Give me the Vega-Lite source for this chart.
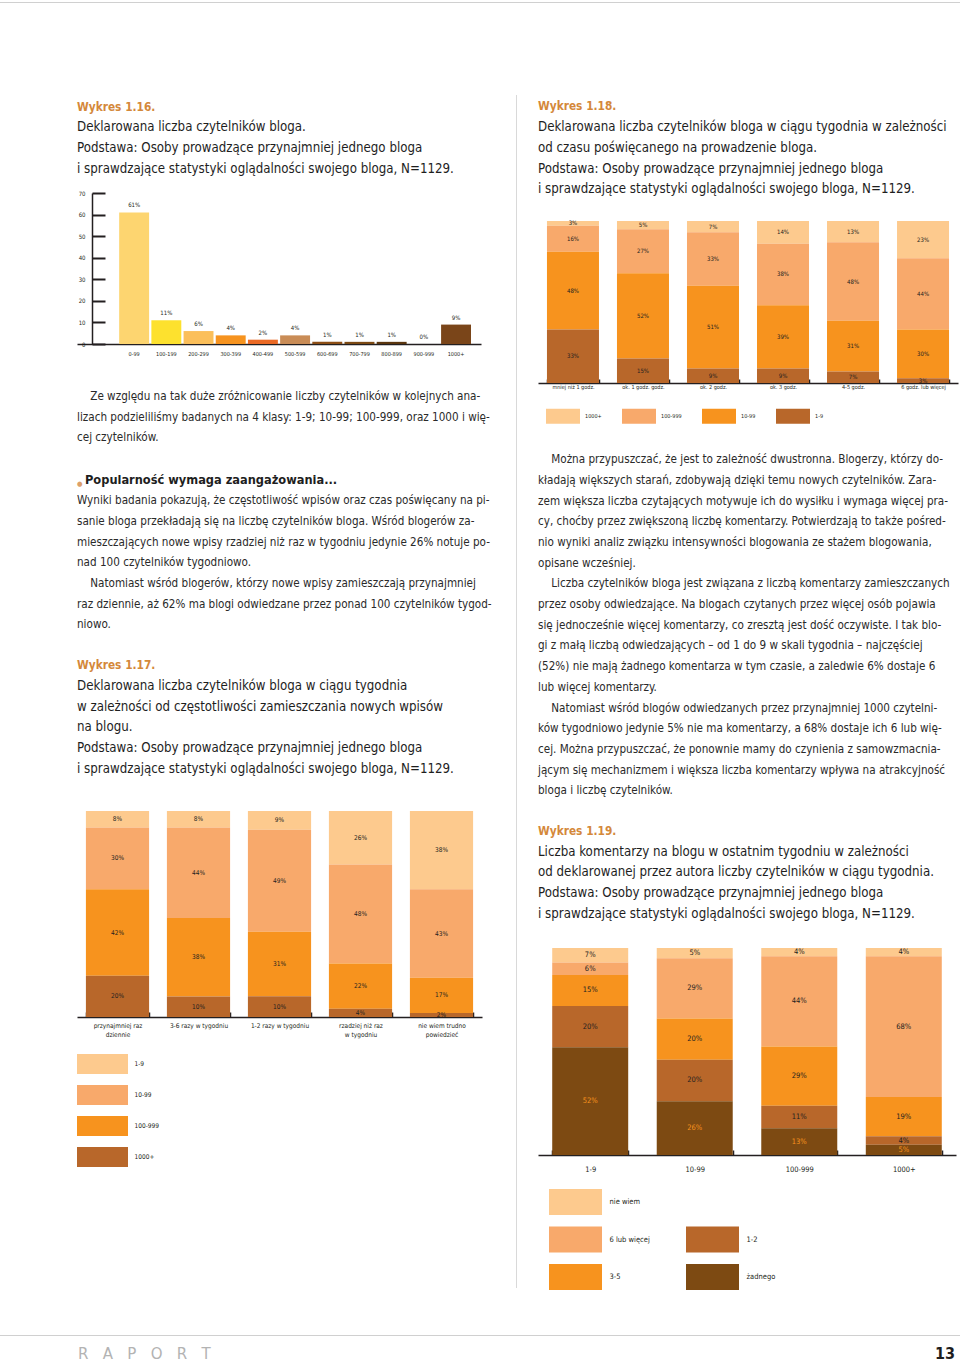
{
  "$schema": "https://vega.github.io/schema/vega-lite/v6.json",
  "background": "white",
  "padding": {"left": 0, "top": 2, "right": 0, "bottom": 0},
  "spacing": 0,
  "resolve": {"scale": {"color": "independent"}},
  "config": {
    "font": "DejaVu Sans Condensed, sans-serif",
    "view": {"stroke": null},
    "concat": {"spacing": 0},
    "title": {
      "anchor": "start", "frame": "group", "offset": 0,
      "font": "DejaVu Sans Condensed, sans-serif",
      "fontSize": 11.8, "fontWeight": "bold", "color": "#d4883a", "lineHeight": 20.7,
      "subtitleFont": "DejaVu Sans Condensed, sans-serif",
      "subtitleFontSize": 13.2, "subtitleColor": "#1e1e1e", "subtitleFontWeight": "normal",
      "subtitleLineHeight": 20.7, "subtitlePadding": 8
    },
    "axis": {"grid": false, "title": null, "labelColor": "#231f20", "domainColor": "#231f20", "tickColor": "#231f20", "labelAngle": 0}
  },
  "vconcat": [
    {"width": 960, "height": 1, "data": {"values": []}, "mark": "point", "view": {"fill": "#d0d0d0", "stroke": null}},
    {"width": 1, "height": 92, "data": {"values": []}, "mark": "point"},
    {
      "spacing": 0,
      "resolve": {"scale": {"color": "independent"}},
      "hconcat": [
        {"width": 77, "height": 1, "data": {"values": []}, "mark": "point"},
        {
          "spacing": 0,
          "resolve": {"scale": {"color": "independent"}},
          "vconcat": [
            {"width": 1, "height": 6, "data": {"values": []}, "mark": "point"},
            {
              "width": 404, "height": 151,
              "title": {
                "text": "Wykres 1.16.",
                "subtitle": ["Deklarowana liczba czytelników bloga.", "Podstawa: Osoby prowadzące przynajmniej jednego bloga", "i sprawdzające statystyki oglądalności swojego bloga, N=1129."],
                "offset": 15
              },
              "data": {"values": [
                {"przedzial": "0-99", "udzial": 0.61},
                {"przedzial": "100-199", "udzial": 0.11},
                {"przedzial": "200-299", "udzial": 0.06},
                {"przedzial": "300-399", "udzial": 0.04},
                {"przedzial": "400-499", "udzial": 0.02},
                {"przedzial": "500-599", "udzial": 0.04},
                {"przedzial": "600-699", "udzial": 0.01},
                {"przedzial": "700-799", "udzial": 0.01},
                {"przedzial": "800-899", "udzial": 0.01},
                {"przedzial": "900-999", "udzial": 0.0},
                {"przedzial": "1000+", "udzial": 0.09}
              ]},
              "encoding": {
                "x": {"field": "przedzial", "type": "nominal",
                  "scale": {"domain": ["", "0-99", "100-199", "200-299", "300-399", "400-499", "500-599", "600-699", "700-799", "800-899", "900-999", "1000+"], "paddingInner": 0.07, "paddingOuter": 0.31},
                  "axis": {"ticks": false, "labelFontSize": 5.5, "labelPadding": 7, "domainWidth": 1.5}},
                "y": {"field": "udzial", "type": "quantitative",
                  "scale": {"domain": [0, 0.7]},
                  "axis": {"values": [0, 0.1, 0.2, 0.3, 0.4, 0.5, 0.6, 0.7], "labelExpr": "round(datum.value*100)", "offset": -15, "tickSize": -13, "tickWidth": 2, "labelPadding": 20, "labelFontSize": 6, "domainWidth": 1.5}}
              },
              "layer": [
                {"mark": "bar", "encoding": {"color": {"field": "przedzial", "type": "nominal", "legend": null,
                  "scale": {"domain": ["0-99", "100-199", "200-299", "300-399", "400-499", "500-599", "600-699", "700-799", "800-899", "900-999", "1000+"],
                            "range": ["#fdd570", "#fde12e", "#fbbf5a", "#f6931f", "#eb6a25", "#c98c56", "#8c4e15", "#7b4913", "#5a360f", "#5a360f", "#7a4519"]}}}},
                {"mark": {"type": "text", "dy": -7, "fontSize": 6, "color": "#231f20"}, "encoding": {"text": {"field": "udzial", "format": ".0%"}}}
              ]
            },
            {"width": 1, "height": 34, "data": {"values": []}, "mark": "point"},
            {
              "width": 414, "height": 1, "data": {"values": []}, "mark": "point",
              "title": {"text": [
                "\u200b\u00a0\u00a0\u00a0\u00a0Ze względu na tak duże zróżnicowanie liczby czytelników w kolejnych ana-",
                "lizach podzieliliśmy badanych na 4 klasy: 1-9; 10-99; 100-999, oraz 1000 i wię-",
                "cej czytelników."
              ], "fontSize": 11.6, "fontWeight": "normal", "color": "#2a2a2a"}
            },
            {"width": 1, "height": 25, "data": {"values": []}, "mark": "point"},
            {
              "spacing": 0,
              "hconcat": [
                {"width": 8, "height": 1, "data": {"values": []}, "mark": "point",
                 "title": {"text": "\u25cf", "fontSize": 7, "fontWeight": "normal", "color": "#dca06a"}},
                {"width": 406, "height": 1, "data": {"values": []}, "mark": "point",
                 "title": {"text": "Popularność wymaga zaangażowania...", "fontSize": 12.7, "color": "#1e1e1e"}}
              ]
            },
            {"width": 1, "height": 3, "data": {"values": []}, "mark": "point"},
            {
              "width": 414, "height": 1, "data": {"values": []}, "mark": "point",
              "title": {"text": [
                  "Wyniki badania pokazują, że częstotliwość wpisów oraz czas poświęcany na pi-",
                  "sanie bloga przekładają się na liczbę czytelników bloga. Wśród blogerów za-",
                  "mieszczających nowe wpisy rzadziej niż raz w tygodniu jedynie 26% notuje po-",
                  "nad 100 czytelników tygodniowo.",
                  "\u200b\u00a0\u00a0\u00a0\u00a0Natomiast wśród blogerów, którzy nowe wpisy zamieszczają przynajmniej",
                  "raz dziennie, aż 62% ma blogi odwiedzane przez ponad 100 czytelników tygod-",
                  "niowo."
                ], "fontSize": 11.6, "fontWeight": "normal", "color": "#2a2a2a"}
            },
            {"width": 1, "height": 24, "data": {"values": []}, "mark": "point"},
            {
              "width": 405, "height": 206,
              "title": {
                "text": "Wykres 1.17.",
                "subtitle": ["Deklarowana liczba czytelników bloga w ciągu tygodnia", "w zależności od częstotliwości zamieszczania nowych wpisów", "na blogu.", "Podstawa: Osoby prowadzące przynajmniej jednego bloga", "i sprawdzające statystyki oglądalności swojego bloga, N=1129."],
                "offset": 36
              },
              "data": {"values": [
                {"czestotliwosc": "przynajmniej raz dziennie", "klasa": "1-9", "udzial": 0.08},
                {"czestotliwosc": "przynajmniej raz dziennie", "klasa": "10-99", "udzial": 0.30},
                {"czestotliwosc": "przynajmniej raz dziennie", "klasa": "100-999", "udzial": 0.42},
                {"czestotliwosc": "przynajmniej raz dziennie", "klasa": "1000+", "udzial": 0.20},
                {"czestotliwosc": "3-6 razy w tygodniu", "klasa": "1-9", "udzial": 0.08},
                {"czestotliwosc": "3-6 razy w tygodniu", "klasa": "10-99", "udzial": 0.44},
                {"czestotliwosc": "3-6 razy w tygodniu", "klasa": "100-999", "udzial": 0.38},
                {"czestotliwosc": "3-6 razy w tygodniu", "klasa": "1000+", "udzial": 0.10},
                {"czestotliwosc": "1-2 razy w tygodniu", "klasa": "1-9", "udzial": 0.09},
                {"czestotliwosc": "1-2 razy w tygodniu", "klasa": "10-99", "udzial": 0.49},
                {"czestotliwosc": "1-2 razy w tygodniu", "klasa": "100-999", "udzial": 0.31},
                {"czestotliwosc": "1-2 razy w tygodniu", "klasa": "1000+", "udzial": 0.10},
                {"czestotliwosc": "rzadziej niż raz w tygodniu", "klasa": "1-9", "udzial": 0.26},
                {"czestotliwosc": "rzadziej niż raz w tygodniu", "klasa": "10-99", "udzial": 0.48},
                {"czestotliwosc": "rzadziej niż raz w tygodniu", "klasa": "100-999", "udzial": 0.22},
                {"czestotliwosc": "rzadziej niż raz w tygodniu", "klasa": "1000+", "udzial": 0.04},
                {"czestotliwosc": "nie wiem trudno powiedzieć", "klasa": "1-9", "udzial": 0.38},
                {"czestotliwosc": "nie wiem trudno powiedzieć", "klasa": "10-99", "udzial": 0.43},
                {"czestotliwosc": "nie wiem trudno powiedzieć", "klasa": "100-999", "udzial": 0.17},
                {"czestotliwosc": "nie wiem trudno powiedzieć", "klasa": "1000+", "udzial": 0.02}
              ]},
              "transform": [{"calculate": "indexof(['1-9', '10-99', '100-999', '1000+'], datum.klasa)", "as": "poz"}],
              "encoding": {
                "x": {"field": "czestotliwosc", "type": "nominal",
                  "sort": ["przynajmniej raz dziennie", "3-6 razy w tygodniu", "1-2 razy w tygodniu", "rzadziej niż raz w tygodniu", "nie wiem trudno powiedzieć"],
                  "scale": {"paddingInner": 0.22, "paddingOuter": 0.11},
                  "axis": {"tickBand": "extent", "tickSize": -5, "tickWidth": 1.5, "domainWidth": 1.5, "labelFontSize": 6.5, "labelPadding": 10, "labelLineHeight": 9,
                    "labelExpr": "datum.label == 'przynajmniej raz dziennie' ? ['przynajmniej raz', 'dziennie'] : datum.label == 'rzadziej niż raz w tygodniu' ? ['rzadziej niż raz', 'w tygodniu'] : datum.label == 'nie wiem trudno powiedzieć' ? ['nie wiem trudno', 'powiedzieć'] : datum.label"}},
                "y": {"field": "udzial", "type": "quantitative", "stack": "normalize", "axis": null},
                "order": {"field": "poz", "type": "quantitative", "sort": "descending"},
                "color": {"field": "klasa", "type": "nominal", "legend": null,
                  "scale": {"domain": ["1-9", "10-99", "100-999", "1000+"], "range": ["#fdca8e", "#f8a96b", "#f7931e", "#b8672a"]}}
              },
              "layer": [
                {"mark": "bar"},
                {"mark": {"type": "text", "fontSize": 6.5},
                 "encoding": {
                   "y": {"field": "udzial", "type": "quantitative", "stack": "normalize", "bandPosition": 0.5},
                   "text": {"field": "udzial", "format": ".0%"},
                   "fill": {"value": "#231f20"}}}
              ]
            },
            {"width": 1, "height": 16, "data": {"values": []}, "mark": "point"},
            {
              "width": 51, "height": 113,
              "data": {"values": [{"klasa": "1-9"}, {"klasa": "10-99"}, {"klasa": "100-999"}, {"klasa": "1000+"}]},
              "mark": "bar",
              "encoding": {
                "y": {"field": "klasa", "type": "nominal", "scale": {"domain": ["1-9", "10-99", "100-999", "1000+"], "paddingInner": 0.355, "paddingOuter": 0},
                  "axis": {"orient": "right", "ticks": false, "domain": false, "labelFontSize": 6.5, "labelPadding": 6}},
                "color": {"field": "klasa", "type": "nominal", "legend": null,
                  "scale": {"domain": ["1-9", "10-99", "100-999", "1000+"], "range": ["#fdca8e", "#f8a96b", "#f7931e", "#b8672a"]}}
              }
            }
          ]
        },
        {"width": 24, "height": 1, "data": {"values": []}, "mark": "point"},
        {"width": 1, "height": 1193, "data": {"values": []}, "mark": "point", "view": {"fill": "#d9d9d9", "stroke": null}},
        {"width": 21, "height": 1, "data": {"values": []}, "mark": "point"},
        {
          "spacing": 0,
          "resolve": {"scale": {"color": "independent"}},
          "vconcat": [
            {"width": 1, "height": 6, "data": {"values": []}, "mark": "point"},
            {
              "width": 420, "height": 162,
              "title": {
                "text": "Wykres 1.18.",
                "subtitle": ["Deklarowana liczba czytelników bloga w ciągu tygodnia w zależności", "od czasu poświęcanego na prowadzenie bloga.", "Podstawa: Osoby prowadzące przynajmniej jednego bloga", "i sprawdzające statystyki oglądalności swojego bloga, N=1129."],
                "offset": 25
              },
              "data": {"values": [
                {"czas": "mniej niż 1 godz.", "klasa": "1000+", "udzial": 0.03},
                {"czas": "mniej niż 1 godz.", "klasa": "100-999", "udzial": 0.16},
                {"czas": "mniej niż 1 godz.", "klasa": "10-99", "udzial": 0.48},
                {"czas": "mniej niż 1 godz.", "klasa": "1-9", "udzial": 0.33},
                {"czas": "ok. 1 godz. godz.", "klasa": "1000+", "udzial": 0.05},
                {"czas": "ok. 1 godz. godz.", "klasa": "100-999", "udzial": 0.27},
                {"czas": "ok. 1 godz. godz.", "klasa": "10-99", "udzial": 0.52},
                {"czas": "ok. 1 godz. godz.", "klasa": "1-9", "udzial": 0.15},
                {"czas": "ok. 2 godz.", "klasa": "1000+", "udzial": 0.07},
                {"czas": "ok. 2 godz.", "klasa": "100-999", "udzial": 0.33},
                {"czas": "ok. 2 godz.", "klasa": "10-99", "udzial": 0.51},
                {"czas": "ok. 2 godz.", "klasa": "1-9", "udzial": 0.09},
                {"czas": "ok. 3 godz.", "klasa": "1000+", "udzial": 0.14},
                {"czas": "ok. 3 godz.", "klasa": "100-999", "udzial": 0.38},
                {"czas": "ok. 3 godz.", "klasa": "10-99", "udzial": 0.39},
                {"czas": "ok. 3 godz.", "klasa": "1-9", "udzial": 0.09},
                {"czas": "4-5  godz.", "klasa": "1000+", "udzial": 0.13},
                {"czas": "4-5  godz.", "klasa": "100-999", "udzial": 0.48},
                {"czas": "4-5  godz.", "klasa": "10-99", "udzial": 0.31},
                {"czas": "4-5  godz.", "klasa": "1-9", "udzial": 0.07},
                {"czas": "6 godz. lub więcej", "klasa": "1000+", "udzial": 0.23},
                {"czas": "6 godz. lub więcej", "klasa": "100-999", "udzial": 0.44},
                {"czas": "6 godz. lub więcej", "klasa": "10-99", "udzial": 0.30},
                {"czas": "6 godz. lub więcej", "klasa": "1-9", "udzial": 0.03}
              ]},
              "transform": [{"calculate": "indexof(['1000+', '100-999', '10-99', '1-9'], datum.klasa)", "as": "poz"}],
              "encoding": {
                "x": {"field": "czas", "type": "nominal",
                  "sort": ["mniej niż 1 godz.", "ok. 1 godz. godz.", "ok. 2 godz.", "ok. 3 godz.", "4-5  godz.", "6 godz. lub więcej"],
                  "scale": {"paddingInner": 0.257, "paddingOuter": 0.128},
                  "axis": {"tickBand": "extent", "tickSize": -4, "tickWidth": 1.5, "domainWidth": 1.5, "labelFontSize": 5.5, "labelPadding": 5}},
                "y": {"field": "udzial", "type": "quantitative", "stack": "normalize", "axis": null},
                "order": {"field": "poz", "type": "quantitative", "sort": "descending"},
                "color": {"field": "klasa", "type": "nominal",
                  "sort": ["1000+", "100-999", "10-99", "1-9"],
                  "scale": {"domain": ["1000+", "100-999", "10-99", "1-9"], "range": ["#fdca8e", "#f8a96b", "#f7931e", "#b8672a"]},
                  "legend": {"orient": "bottom", "direction": "horizontal", "title": null, "symbolType": "M-1,-0.44H1V0.44H-1Z", "symbolSize": 1156, "symbolStrokeWidth": 0, "symbolOpacity": 1, "labelFontSize": 5.5, "labelOffset": 5, "columnPadding": 20, "offset": 1, "padding": 8, "labelColor": "#231f20"}}
              },
              "layer": [
                {"mark": "bar"},
                {"mark": {"type": "text", "fontSize": 6},
                 "encoding": {
                   "y": {"field": "udzial", "type": "quantitative", "stack": "normalize", "bandPosition": 0.5},
                   "text": {"field": "udzial", "format": ".0%"},
                   "fill": {"value": "#231f20"}}}
              ]
            },
            {"width": 1, "height": 22, "data": {"values": []}, "mark": "point"},
            {
              "width": 420, "height": 1, "data": {"values": []}, "mark": "point",
              "title": {"text": [
                "\u200b\u00a0\u00a0\u00a0\u00a0Można przypuszczać, że jest to zależność dwustronna. Blogerzy, którzy do-",
                "kładają większych starań, zdobywają dzięki temu nowych czytelników. Zara-",
                "zem większa liczba czytających motywuje ich do wysiłku i wymaga więcej pra-",
                "cy, choćby przez zwiększoną liczbę komentarzy. Potwierdzają to także pośred-",
                "nio wyniki analiz związku intensywności blogowania ze stażem blogowania,",
                "opisane wcześniej.",
                "\u200b\u00a0\u00a0\u00a0\u00a0Liczba czytelników bloga jest związana z liczbą komentarzy zamieszczanych",
                "przez osoby odwiedzające. Na blogach czytanych przez więcej osób pojawia",
                "się jednocześnie więcej komentarzy, co zresztą jest dość oczywiste. I tak blo-",
                "gi z małą liczbą odwiedzających – od 1 do 9 w skali tygodnia – najczęściej",
                "(52%) nie mają żadnego komentarza w tym czasie, a zaledwie 6% dostaje 6",
                "lub więcej komentarzy.",
                "\u200b\u00a0\u00a0\u00a0\u00a0Natomiast wśród blogów odwiedzanych przez przynajmniej 1000 czytelni-",
                "ków tygodniowo jedynie 5% nie ma komentarzy, a 68% dostaje ich 6 lub wię-",
                "cej. Można przypuszczać, że ponownie mamy do czynienia z samowzmacnia-",
                "jącym się mechanizmem i większa liczba komentarzy wpływa na atrakcyjność",
                "bloga i liczbę czytelników."
              ], "fontSize": 11.6, "fontWeight": "normal", "color": "#2a2a2a"}
            },
            {"width": 1, "height": 23, "data": {"values": []}, "mark": "point"},
            {
              "width": 418, "height": 207,
              "title": {
                "text": "Wykres 1.19.",
                "subtitle": ["Liczba komentarzy na blogu w ostatnim tygodniu w zależności", "od deklarowanej przez autora liczby czytelników w ciągu tygodnia.", "Podstawa: Osoby prowadzące przynajmniej jednego bloga", "i sprawdzające statystyki oglądalności swojego bloga, N=1129."],
                "offset": 28
              },
              "data": {"values": [
                {"czytelnicy": "1-9", "komentarze": "nie wiem", "udzial": 0.07},
                {"czytelnicy": "1-9", "komentarze": "6 lub więcej", "udzial": 0.06},
                {"czytelnicy": "1-9", "komentarze": "3-5", "udzial": 0.15},
                {"czytelnicy": "1-9", "komentarze": "1-2", "udzial": 0.20},
                {"czytelnicy": "1-9", "komentarze": "żadnego", "udzial": 0.52},
                {"czytelnicy": "10-99", "komentarze": "nie wiem", "udzial": 0.05},
                {"czytelnicy": "10-99", "komentarze": "6 lub więcej", "udzial": 0.29},
                {"czytelnicy": "10-99", "komentarze": "3-5", "udzial": 0.20},
                {"czytelnicy": "10-99", "komentarze": "1-2", "udzial": 0.20},
                {"czytelnicy": "10-99", "komentarze": "żadnego", "udzial": 0.26},
                {"czytelnicy": "100-999", "komentarze": "nie wiem", "udzial": 0.04},
                {"czytelnicy": "100-999", "komentarze": "6 lub więcej", "udzial": 0.44},
                {"czytelnicy": "100-999", "komentarze": "3-5", "udzial": 0.29},
                {"czytelnicy": "100-999", "komentarze": "1-2", "udzial": 0.11},
                {"czytelnicy": "100-999", "komentarze": "żadnego", "udzial": 0.13},
                {"czytelnicy": "1000+", "komentarze": "nie wiem", "udzial": 0.04},
                {"czytelnicy": "1000+", "komentarze": "6 lub więcej", "udzial": 0.68},
                {"czytelnicy": "1000+", "komentarze": "3-5", "udzial": 0.19},
                {"czytelnicy": "1000+", "komentarze": "1-2", "udzial": 0.04},
                {"czytelnicy": "1000+", "komentarze": "żadnego", "udzial": 0.05}
              ]},
              "transform": [{"calculate": "indexof(['nie wiem', '6 lub więcej', '3-5', '1-2', 'żadnego'], datum.komentarze)", "as": "poz"}],
              "encoding": {
                "x": {"field": "czytelnicy", "type": "nominal",
                  "sort": ["1-9", "10-99", "100-999", "1000+"],
                  "scale": {"paddingInner": 0.273, "paddingOuter": 0.136},
                  "axis": {"tickBand": "extent", "tickSize": -5, "tickWidth": 1.5, "domainWidth": 1.5, "labelFontSize": 7.5, "labelPadding": 15}},
                "y": {"field": "udzial", "type": "quantitative", "stack": "normalize", "axis": null},
                "order": {"field": "poz", "type": "quantitative", "sort": "descending"},
                "color": {"field": "komentarze", "type": "nominal", "legend": null,
                  "scale": {"domain": ["nie wiem", "6 lub więcej", "3-5", "1-2", "żadnego"], "range": ["#fdca8e", "#f8a96b", "#f7931e", "#b8672a", "#7d4a12"]}}
              },
              "layer": [
                {"mark": "bar"},
                {"mark": {"type": "text", "fontSize": 7.5},
                 "encoding": {
                   "y": {"field": "udzial", "type": "quantitative", "stack": "normalize", "bandPosition": 0.5},
                   "text": {"field": "udzial", "format": ".0%"},
                   "fill": {"condition": {"test": "datum.komentarze == 'żadnego'", "value": "#f7931e"}, "value": "#231f20"}}}
              ]
            },
            {"width": 1, "height": 16, "data": {"values": []}, "mark": "point"},
            {
              "spacing": 0,
              "resolve": {"scale": {"color": "independent"}},
              "hconcat": [
                {"width": 11, "height": 1, "data": {"values": []}, "mark": "point"},
                {
                  "width": 53, "height": 101,
                  "data": {"values": [{"komentarze": "nie wiem"}, {"komentarze": "6 lub więcej"}, {"komentarze": "3-5"}]},
                  "mark": "bar",
                  "encoding": {
                    "y": {"field": "komentarze", "type": "nominal", "scale": {"domain": ["nie wiem", "6 lub więcej", "3-5"], "paddingInner": 0.307, "paddingOuter": 0},
                      "axis": {"orient": "right", "ticks": false, "domain": false, "labelFontSize": 7.5, "labelPadding": 7}},
                    "color": {"field": "komentarze", "type": "nominal", "legend": null,
                      "scale": {"domain": ["nie wiem", "6 lub więcej", "3-5", "1-2", "żadnego"], "range": ["#fdca8e", "#f8a96b", "#f7931e", "#b8672a", "#7d4a12"]}}
                  }
                },
                {"width": 36, "height": 1, "data": {"values": []}, "mark": "point"},
                {
                  "width": 53, "height": 101,
                  "data": {"values": [{"komentarze": "1-2"}, {"komentarze": "żadnego"}]},
                  "mark": "bar",
                  "encoding": {
                    "y": {"field": "komentarze", "type": "nominal", "scale": {"domain": [" ", "1-2", "żadnego"], "paddingInner": 0.307, "paddingOuter": 0},
                      "axis": {"orient": "right", "ticks": false, "domain": false, "labelFontSize": 7.5, "labelPadding": 7}},
                    "color": {"field": "komentarze", "type": "nominal", "legend": null,
                      "scale": {"domain": ["nie wiem", "6 lub więcej", "3-5", "1-2", "żadnego"], "range": ["#fdca8e", "#f8a96b", "#f7931e", "#b8672a", "#7d4a12"]}}
                  }
                }
              ]
            }
          ]
        }
      ]
    },
    {"width": 1, "height": 45, "data": {"values": []}, "mark": "point"},
    {"width": 960, "height": 1, "data": {"values": []}, "mark": "point", "view": {"fill": "#d0d0d0", "stroke": null}},
    {"width": 1, "height": 10, "data": {"values": []}, "mark": "point"},
    {
      "spacing": 0,
      "hconcat": [
        {"width": 860, "height": 1, "data": {"values": []}, "mark": "point",
         "title": {"text": "R\u00a0\u00a0\u00a0A\u00a0\u00a0\u00a0P\u00a0\u00a0\u00a0O\u00a0\u00a0\u00a0R\u00a0\u00a0\u00a0T", "dx": 78, "fontSize": 15, "fontWeight": "normal", "color": "#b3b3b3", "font": "DejaVu Sans"}},
        {"width": 100, "height": 1, "data": {"values": []}, "mark": "point",
         "title": {"text": "13", "anchor": "end", "dx": -5, "fontSize": 16, "fontWeight": "bold", "color": "#1e1e1e"}}
      ]
    }
  ]
}
